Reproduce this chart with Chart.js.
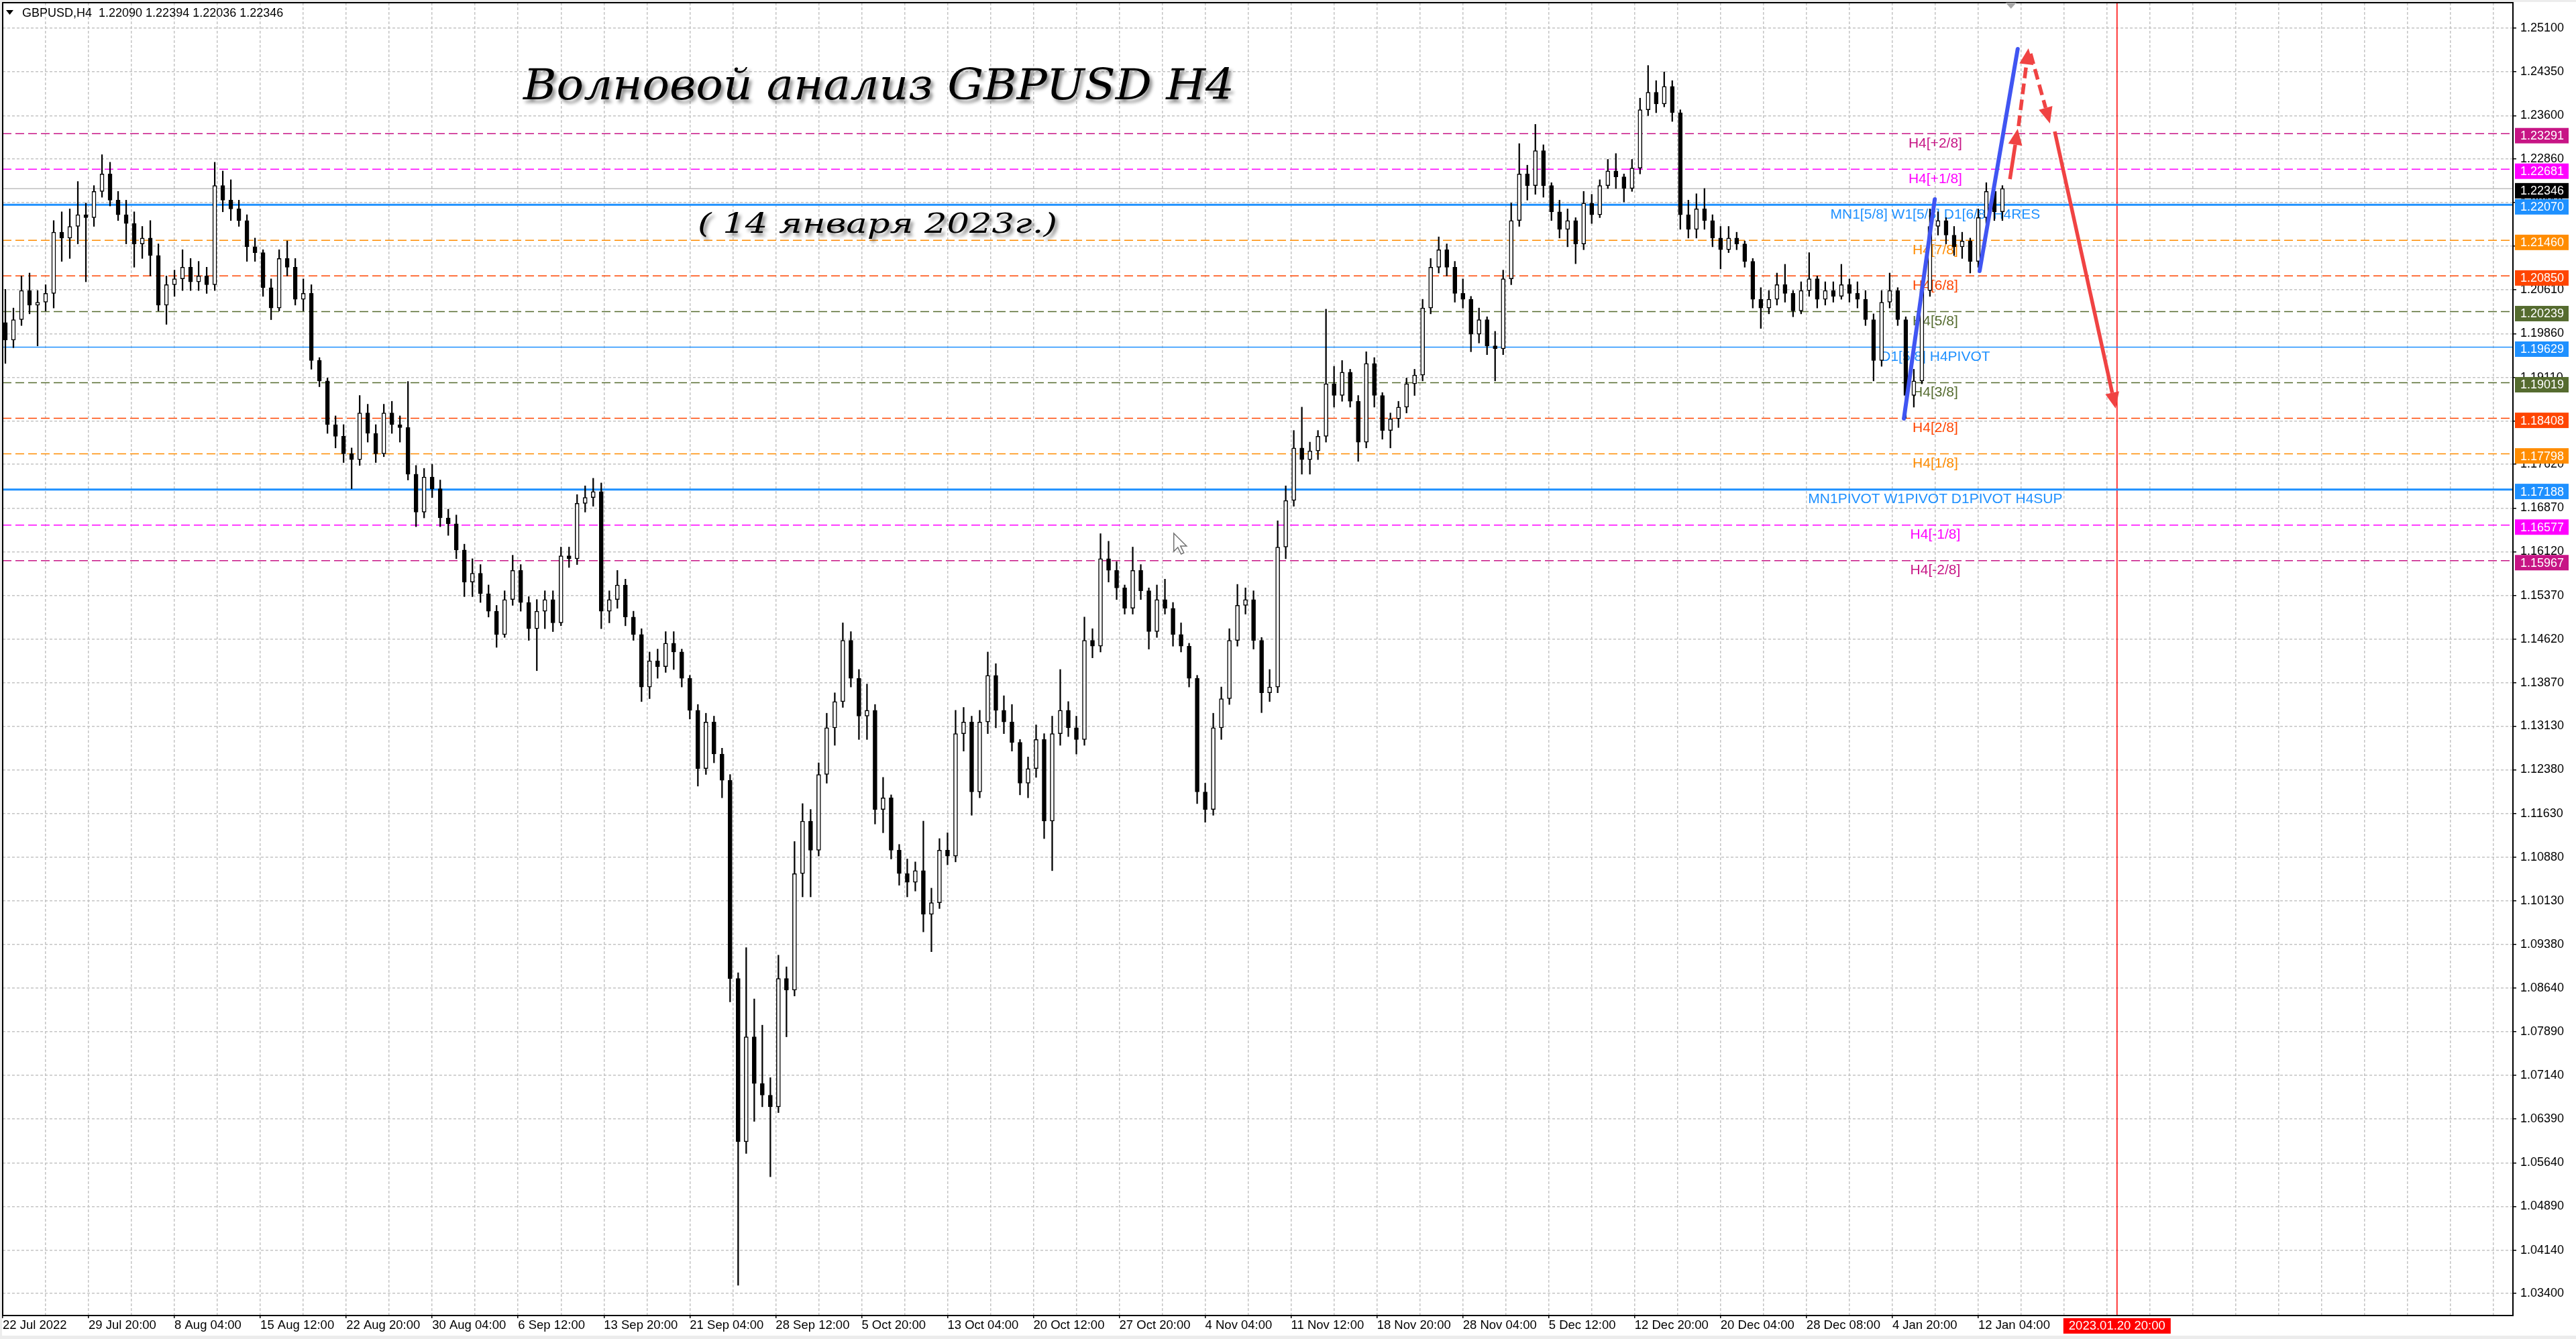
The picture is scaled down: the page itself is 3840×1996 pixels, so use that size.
<!DOCTYPE html>
<html>
<head>
<meta charset="utf-8">
<title>GBPUSD H4</title>
<script src="https://cdn.jsdelivr.net/npm/chart.js@4.4.1/dist/chart.umd.min.js"></script>
<style>
html,body{margin:0;padding:0;background:#fff;overflow:hidden;}
#wrap{width:3840px;height:1996px;position:relative;}
canvas{display:block;}
</style>
</head>
<body>
<div id="wrap"><canvas id="c"></canvas></div>
<script>
// ---------- DATA (each candle = 3 H4 bars) ----------
const candleOpen = [
1.2005,1.1975,1.2010,1.2060,1.2035,1.2040,1.2055,1.2160,1.2150,1.2170,
1.2190,1.2185,1.2230,1.2260,1.2215,1.2190,1.2175,1.2140,1.2150,1.2120,
1.2035,1.2070,1.2080,1.2100,1.2075,1.2085,1.2070,1.2240,1.2215,1.2200,
1.2180,1.2135,1.2125,1.2065,1.2030,1.2115,1.2100,1.2045,1.2055,1.1940,
1.1905,1.1830,1.1810,1.1780,1.1770,1.1850,1.1815,1.1780,1.1850,1.1830,
1.1825,1.1745,1.1680,1.1740,1.1720,1.1670,1.1660,1.1615,1.1560,1.1575,
1.1540,1.1510,1.1470,1.1530,1.1580,1.1525,1.1480,1.1510,1.1530,1.1490,
1.1605,1.1600,1.1695,1.1705,1.1715,1.1510,1.1530,1.1555,1.1500,1.1470,
1.1380,1.1425,1.1415,1.1455,1.1440,1.1395,1.1340,1.1240,1.1320,1.1265,
1.1220,1.0880,1.0600,1.0780,1.0700,1.0680,1.0660,1.0880,1.0860,1.1060,
1.1150,1.1100,1.1230,1.1310,1.1355,1.1460,1.1395,1.1330,1.1340,1.1170,
1.1190,1.1100,1.1060,1.1045,1.1065,1.0990,1.1010,1.1100,1.1090,1.1300,
1.1320,1.1200,1.1320,1.1400,1.1340,1.1320,1.1285,1.1215,1.1240,1.1290,
1.1150,1.1300,1.1340,1.1310,1.1290,1.1460,1.1450,1.1600,1.1580,1.1550,
1.1515,1.1580,1.1545,1.1475,1.1530,1.1515,1.1470,1.1450,1.1395,1.1200,
1.1170,1.1310,1.1360,1.1460,1.1520,1.1530,1.1460,1.1370,1.1380,1.1620,
1.1700,1.1790,1.1770,1.1785,1.1810,1.1900,1.1880,1.1920,1.1870,1.1800,
1.1935,1.1880,1.1820,1.1840,1.1860,1.1900,1.1915,1.2030,1.2100,1.2130,
1.2100,1.2055,1.2045,1.1985,1.2010,1.1965,1.1960,1.2080,1.2180,1.2260,
1.2240,1.2300,1.2240,1.2195,1.2165,1.2180,1.2140,1.2210,1.2190,1.2240,
1.2265,1.2255,1.2235,1.2270,1.2370,1.2400,1.2380,1.2410,1.2365,1.2190,
1.2165,1.2200,1.2180,1.2150,1.2130,1.2150,1.2140,1.2110,1.2045,1.2030,
1.2045,1.2070,1.2055,1.2025,1.2060,1.2080,1.2045,1.2060,1.2050,1.2070,
1.2055,1.2045,1.2010,1.1940,1.2040,1.2060,1.2010,1.1880,1.1905,1.2060,
1.2170,1.2180,1.2155,1.2135,1.2145,1.2110,1.2185,1.2230,1.2195
];
const candleHigh = [
1.2062,1.2030,1.2085,1.2090,1.2060,1.2070,1.2180,1.2195,1.2200,1.2247,
1.2210,1.2240,1.2293,1.2280,1.2230,1.2215,1.2195,1.2170,1.2180,1.2140,
1.2085,1.2095,1.2130,1.2115,1.2110,1.2100,1.2280,1.2265,1.2250,1.2215,
1.2190,1.2150,1.2130,1.2080,1.2130,1.2145,1.2115,1.2080,1.2070,1.1945,
1.1910,1.1845,1.1830,1.1790,1.1880,1.1865,1.1830,1.1865,1.1870,1.1845,
1.1904,1.1760,1.1755,1.1762,1.1735,1.1685,1.1675,1.1625,1.1600,1.1590,
1.1555,1.1520,1.1545,1.1606,1.1590,1.1535,1.1530,1.1545,1.1545,1.1620,
1.1620,1.1710,1.1725,1.1738,1.1730,1.1545,1.1580,1.1565,1.1510,1.1480,
1.1440,1.1445,1.1475,1.1475,1.1445,1.1400,1.1350,1.1335,1.1330,1.1275,
1.1230,1.0890,1.0933,1.0845,1.0800,1.0710,1.0920,1.0900,1.1115,1.1180,
1.1170,1.1250,1.1335,1.1370,1.1490,1.1475,1.1410,1.1385,1.1350,1.1225,
1.1195,1.1110,1.1085,1.1080,1.1150,1.1035,1.1120,1.1130,1.1340,1.1345,
1.1330,1.1340,1.1440,1.1420,1.1365,1.1350,1.1290,1.1260,1.1315,1.1300,
1.1330,1.1410,1.1355,1.1330,1.1500,1.1480,1.1643,1.1630,1.1595,1.1555,
1.1620,1.1590,1.1550,1.1555,1.1565,1.1525,1.1490,1.1455,1.1400,1.1215,
1.1335,1.1380,1.1480,1.1556,1.1550,1.1545,1.1465,1.1410,1.1665,1.1725,
1.1820,1.1860,1.1800,1.1820,1.2028,1.1930,1.1940,1.1925,1.1880,1.1955,
1.1945,1.1885,1.1850,1.1870,1.1910,1.1925,1.2045,1.2115,1.2152,1.2140,
1.2110,1.2080,1.2050,1.2030,1.2015,1.1990,1.2095,1.2210,1.2312,1.2275,
1.2345,1.2310,1.2245,1.2215,1.2200,1.2185,1.2230,1.2225,1.2250,1.2285,
1.2295,1.2260,1.2285,1.2390,1.2446,1.2420,1.2435,1.2420,1.2370,1.2215,
1.2226,1.2235,1.2190,1.2170,1.2170,1.2160,1.2145,1.2115,1.2065,1.2060,
1.2090,1.2105,1.2060,1.2075,1.2125,1.2085,1.2075,1.2075,1.2105,1.2080,
1.2075,1.2060,1.2020,1.2060,1.2090,1.2065,1.2015,1.1925,1.2075,1.2200,
1.2195,1.2185,1.2170,1.2160,1.2150,1.2200,1.2245,1.2240,1.2240
];
const candleLow = [
1.1935,1.1962,1.2000,1.2020,1.1965,1.2025,1.2030,1.2110,1.2115,1.2140,
1.2075,1.2170,1.2220,1.2205,1.2180,1.2140,1.2100,1.2115,1.2085,1.2025,
1.2002,1.2050,1.2060,1.2060,1.2060,1.2055,1.2060,1.2195,1.2180,1.2170,
1.2110,1.2110,1.2050,1.2010,1.2025,1.2085,1.2035,1.2025,1.1925,1.1895,
1.1815,1.1790,1.1765,1.1720,1.1760,1.1800,1.1765,1.1775,1.1815,1.1800,
1.1735,1.1655,1.1670,1.1705,1.1655,1.1640,1.1600,1.1535,1.1535,1.1525,
1.1500,1.1448,1.1465,1.1520,1.1510,1.1460,1.1408,1.1480,1.1475,1.1485,
1.1585,1.1590,1.1680,1.1690,1.1480,1.1490,1.1515,1.1485,1.1460,1.1355,
1.1360,1.1395,1.1405,1.1410,1.1380,1.1325,1.1210,1.1230,1.1250,1.1190,
1.0840,1.0354,1.0580,1.0635,1.0660,1.0540,1.0650,1.0780,1.0850,1.1020,
1.1020,1.1090,1.1215,1.1280,1.1345,1.1380,1.1290,1.1290,1.1145,1.1130,
1.1085,1.1040,1.1020,1.1030,1.0960,1.0926,1.1000,1.1075,1.1080,1.1270,
1.1160,1.1190,1.1300,1.1310,1.1300,1.1270,1.1195,1.1190,1.1225,1.1120,
1.1065,1.1280,1.1295,1.1265,1.1280,1.1430,1.1440,1.1560,1.1530,1.1505,
1.1505,1.1530,1.1445,1.1465,1.1505,1.1450,1.1440,1.1380,1.1180,1.1148,
1.1160,1.1290,1.1350,1.1450,1.1505,1.1445,1.1336,1.1355,1.1370,1.1600,
1.1690,1.1745,1.1745,1.1770,1.1800,1.1860,1.1870,1.1860,1.1767,1.1790,
1.1860,1.1805,1.1790,1.1825,1.1850,1.1880,1.1905,1.2020,1.2090,1.2085,
1.2040,1.2030,1.1955,1.1970,1.1950,1.1905,1.1950,1.2070,1.2170,1.2215,
1.2225,1.2220,1.2180,1.2150,1.2135,1.2106,1.2130,1.2175,1.2185,1.2235,
1.2235,1.2212,1.2230,1.2260,1.2360,1.2365,1.2375,1.2350,1.2165,1.2150,
1.2150,1.2165,1.2135,1.2097,1.2125,1.2130,1.2100,1.2030,1.1995,1.2020,
1.2035,1.2040,1.2015,1.2020,1.2050,1.2030,1.2035,1.2040,1.2045,1.2040,
1.2030,1.2000,1.1905,1.1930,1.2030,1.2000,1.1841,1.1860,1.1900,1.2050,
1.2155,1.2140,1.2120,1.2115,1.2090,1.2100,1.2175,1.2180,1.2180
];
const candleClose = [
1.1975,1.2010,1.2060,1.2035,1.2040,1.2055,1.2160,1.2150,1.2170,1.2190,
1.2185,1.2230,1.2260,1.2215,1.2190,1.2175,1.2140,1.2150,1.2120,1.2035,
1.2070,1.2080,1.2100,1.2075,1.2085,1.2070,1.2240,1.2215,1.2200,1.2180,
1.2135,1.2125,1.2065,1.2030,1.2115,1.2100,1.2045,1.2055,1.1940,1.1905,
1.1830,1.1810,1.1780,1.1770,1.1850,1.1815,1.1780,1.1850,1.1830,1.1825,
1.1745,1.1680,1.1740,1.1720,1.1670,1.1660,1.1615,1.1560,1.1575,1.1540,
1.1510,1.1470,1.1530,1.1580,1.1525,1.1480,1.1510,1.1530,1.1490,1.1605,
1.1600,1.1695,1.1705,1.1715,1.1510,1.1530,1.1555,1.1500,1.1470,1.1380,
1.1425,1.1415,1.1455,1.1440,1.1395,1.1340,1.1240,1.1320,1.1265,1.1220,
1.0880,1.0600,1.0780,1.0700,1.0680,1.0660,1.0880,1.0860,1.1060,1.1150,
1.1100,1.1230,1.1310,1.1355,1.1460,1.1395,1.1330,1.1340,1.1170,1.1190,
1.1100,1.1060,1.1045,1.1065,1.0990,1.1010,1.1100,1.1090,1.1300,1.1320,
1.1200,1.1320,1.1400,1.1340,1.1320,1.1285,1.1215,1.1240,1.1290,1.1150,
1.1300,1.1340,1.1310,1.1290,1.1460,1.1450,1.1600,1.1580,1.1550,1.1515,
1.1580,1.1545,1.1475,1.1530,1.1515,1.1470,1.1450,1.1395,1.1200,1.1170,
1.1310,1.1360,1.1460,1.1520,1.1530,1.1460,1.1370,1.1380,1.1620,1.1700,
1.1790,1.1770,1.1785,1.1810,1.1900,1.1880,1.1920,1.1870,1.1800,1.1935,
1.1880,1.1820,1.1840,1.1860,1.1900,1.1915,1.2030,1.2100,1.2130,1.2100,
1.2055,1.2045,1.1985,1.2010,1.1965,1.1960,1.2080,1.2180,1.2260,1.2240,
1.2300,1.2240,1.2195,1.2165,1.2180,1.2140,1.2210,1.2190,1.2240,1.2265,
1.2255,1.2235,1.2270,1.2370,1.2400,1.2380,1.2410,1.2365,1.2190,1.2165,
1.2200,1.2180,1.2150,1.2130,1.2150,1.2140,1.2110,1.2045,1.2030,1.2045,
1.2070,1.2055,1.2025,1.2060,1.2080,1.2045,1.2060,1.2050,1.2070,1.2055,
1.2045,1.2010,1.1940,1.2040,1.2060,1.2010,1.1880,1.1905,1.2060,1.2170,
1.2180,1.2155,1.2135,1.2145,1.2110,1.2185,1.2230,1.2195,1.2235
];
const barsPerCandle = 3;          // H4 bars summarised by one candle
const barsPerTimeLabel = 32;      // H4 bars between two time labels
const barsPerGridLine = 16;
const xTimeLabels = [
"22 Jul 2022","29 Jul 20:00","8 Aug 04:00","15 Aug 12:00","22 Aug 20:00","30 Aug 04:00",
"6 Sep 12:00","13 Sep 20:00","21 Sep 04:00","28 Sep 12:00","5 Oct 20:00","13 Oct 04:00",
"20 Oct 12:00","27 Oct 20:00","4 Nov 04:00","11 Nov 12:00","18 Nov 20:00","28 Nov 04:00",
"5 Dec 12:00","12 Dec 20:00","20 Dec 04:00","28 Dec 08:00","4 Jan 20:00","12 Jan 04:00"
];
const xAxisBars = 935.2;
const yTickValues = [
1.25100,1.24350,1.23600,1.22860,1.22110,1.21360,1.20610,1.19860,1.19110,1.18360,
1.17620,1.16870,1.16120,1.15370,1.14620,1.13870,1.13130,1.12380,1.11630,1.10880,
1.10130,1.09380,1.08640,1.07890,1.07140,1.06390,1.05640,1.04890,1.04140,1.03400
];
const yTicksWithoutLabel = [1.21360, 1.18360];
const yAxisMin = 1.03020, yAxisMax = 1.25537;

const levelPrices = [1.23291,1.22681,1.22070,1.21460,1.20850,1.20239,1.19629,1.19019,1.18408,1.17798,1.17188,1.16577,1.15967];
const levelNames = ["H4[+2/8]","H4[+1/8]","MN1[5/8] W1[5/8] D1[6/8] H4RES","H4[7/8]","H4[6/8]","H4[5/8]",
  "D1[5/8] H4PIVOT","H4[3/8]","H4[2/8]","H4[1/8]","MN1PIVOT W1PIVOT D1PIVOT H4SUP","H4[-1/8]","H4[-2/8]"];
const levelNameAtBar = 720;
const currentPrice = 1.22346;
const futureLineAtBar = 787.7;
const futureLineLabel = "2023.01.20 20:00";
const shiftMarkerAtBar = 748.2;
const cursorAt = {x: 436.3, y: 1.16436};

const waveLineA = [{x:708.3, y:1.18403},{x:719.8, y:1.22166}];
const waveLineB = [{x:736.5, y:1.20935},{x:750.7, y:1.24743}];
const arrowUpSolid    = [{x:747.8, y:1.22511},{x:750.7, y:1.23374}];
const arrowUpDashed   = [{x:751.0, y:1.23420},{x:754.7, y:1.24755}];
const arrowDownDashed = [{x:755.5, y:1.24663},{x:762.7, y:1.23466}];
const arrowDownSolid  = [{x:764.5, y:1.23328},{x:787.2, y:1.18576}];

const headerText = "GBPUSD,H4  1.22090 1.22394 1.22036 1.22346";
const titleText = "Волновой анализ GBPUSD H4";
const subtitleText = "( 14 января 2023г.)";

// ---------- STYLES ----------
const levelColors = ["#C71585","#FF00FF","#1E90FF","#FF8C00","#FF4500","#556B2F","#1E90FF","#556B2F","#FF4500","#FF8C00","#1E90FF","#FF00FF","#C71585"];
const levelStyles = ["dash","dash","bold","dash","dash","dash","thin","dash","dash","dash","bold","dash","dash"];
const WAVE_BLUE = "#4055F2";
const ARROW_RED = "#F04343";
const GRID = "#c4c4c4";
const AXIS_FONT = "'Liberation Sans', Arial, sans-serif";

// ---------- BUILD ----------
const candleBar = candleOpen.map((_, i) => i * barsPerCandle + (barsPerCandle - 1) / 2);
const wickData = candleBar.map((x, i) => ({x, y: [candleLow[i], candleHigh[i]]}));
const bodyData = candleBar.map((x, i) => ({x, y: [Math.min(candleOpen[i], candleClose[i]), Math.max(candleOpen[i], candleClose[i])]}));
const bodyFill = candleOpen.map((o, i) => candleClose[i] >= o ? "#ffffff" : "#000000");
const xGridBars = [];
for (let b = 0; b <= xAxisBars; b += barsPerGridLine) xGridBars.push(b);

function timeLabelFor(v) {
  if (v % barsPerTimeLabel !== 0) return "";
  const k = v / barsPerTimeLabel;
  return k < xTimeLabels.length ? xTimeLabels[k] : "";
}

function arrowHead(ctx, x1, y1, x2, y2, len, hw) {
  const dx = x2 - x1, dy = y2 - y1, d = Math.hypot(dx, dy);
  const ux = dx / d, uy = dy / d;
  const bx = x2 - ux * len, by = y2 - uy * len;
  ctx.beginPath();
  ctx.moveTo(x2, y2);
  ctx.lineTo(bx - uy * hw, by + ux * hw);
  ctx.lineTo(bx + uy * hw, by - ux * hw);
  ctx.closePath();
  ctx.fill();
  return [bx, by];
}

function fittedText(ctx, text, cx, baseline, fontSize, targetWidth, family) {
  ctx.save();
  ctx.font = "italic " + fontSize + "px " + family;
  const w = ctx.measureText(text).width;
  const sx = targetWidth / w;
  ctx.shadowColor = "rgba(0,0,0,0.45)";
  ctx.shadowOffsetX = 4;
  ctx.shadowOffsetY = 5;
  ctx.shadowBlur = 5;
  ctx.translate(cx, baseline);
  ctx.scale(sx, 1);
  ctx.textAlign = "center";
  ctx.textBaseline = "alphabetic";
  ctx.fillStyle = "#000";
  ctx.fillText(text, 0, 0);
  ctx.restore();
}

function noScalePadding(s) {
  s.paddingTop = 0; s.paddingBottom = 0; s.paddingLeft = 0; s.paddingRight = 0;
}

const overlay = {
  id: "overlay",
  beforeDraw(chart) {
    const {ctx, width, height} = chart;
    ctx.save();
    ctx.fillStyle = "#ffffff";
    ctx.fillRect(0, 0, width, height);
    ctx.fillStyle = "#ececec";
    ctx.fillRect(0, 0, width, 3);
    ctx.fillRect(0, 0, 3, height);
    ctx.fillRect(0, height - 5, width, 5);
    ctx.restore();
  },
  beforeDatasetsDraw(chart) {
    const {ctx, chartArea: a, scales: {x, y}} = chart;
    ctx.save();
    ctx.beginPath();
    ctx.rect(a.left, a.top, a.right - a.left, a.bottom - a.top);
    ctx.clip();
    const py = y.getPixelForValue(currentPrice);
    ctx.strokeStyle = "#c0c0c0";
    ctx.lineWidth = 1.5;
    ctx.setLineDash([]);
    ctx.beginPath(); ctx.moveTo(a.left, py); ctx.lineTo(a.right, py); ctx.stroke();
    const fx = x.getPixelForValue(futureLineAtBar);
    ctx.strokeStyle = "#ff0000";
    ctx.lineWidth = 1.5;
    ctx.beginPath(); ctx.moveTo(fx, a.top); ctx.lineTo(fx, a.bottom); ctx.stroke();
    const lx = x.getPixelForValue(levelNameAtBar);
    levelPrices.forEach((p, i) => {
      const ly = y.getPixelForValue(p);
      const st = levelStyles[i];
      ctx.strokeStyle = levelColors[i];
      ctx.lineWidth = st === "bold" ? 3 : 1.5;
      ctx.setLineDash(st === "dash" ? [13, 6] : []);
      ctx.beginPath(); ctx.moveTo(a.left, ly); ctx.lineTo(a.right, ly); ctx.stroke();
    });
    ctx.setLineDash([]);
    ctx.font = "21px " + AXIS_FONT;
    ctx.textAlign = "center";
    ctx.textBaseline = "top";
    levelPrices.forEach((p, i) => {
      const ly = y.getPixelForValue(p);
      ctx.fillStyle = levelColors[i];
      ctx.fillText(levelNames[i], lx, ly + 4);
    });
    ctx.restore();
  },
  afterDatasetsDraw(chart) {
    const {ctx, chartArea: a, scales: {x, y}} = chart;
    ctx.save();
    ctx.beginPath();
    ctx.rect(a.left, a.top, a.right - a.left, a.bottom - a.top);
    ctx.clip();
    ctx.strokeStyle = ARROW_RED;
    ctx.fillStyle = ARROW_RED;
    ctx.lineWidth = 5.5;
    ctx.lineCap = "butt";
    [[arrowUpSolid, false], [arrowUpDashed, true], [arrowDownDashed, true], [arrowDownSolid, false]].forEach(([pts, dashed]) => {
      const x1 = x.getPixelForValue(pts[0].x), y1 = y.getPixelForValue(pts[0].y);
      const x2 = x.getPixelForValue(pts[1].x), y2 = y.getPixelForValue(pts[1].y);
      const [bx, by] = arrowHead(ctx, x1, y1, x2, y2, 24, 10.5);
      ctx.setLineDash(dashed ? [16, 8] : []);
      ctx.beginPath(); ctx.moveTo(x1, y1); ctx.lineTo(bx, by); ctx.stroke();
    });
    ctx.restore();
  },
  afterDraw(chart) {
    const {ctx, chartArea: a, scales: {x, y}} = chart;
    ctx.save();
    ctx.strokeStyle = "#000";
    ctx.lineWidth = 2;
    ctx.setLineDash([]);
    ctx.strokeRect(a.left, a.top, a.right - a.left, a.bottom - a.top);
    ctx.font = "18px " + AXIS_FONT;
    ctx.textAlign = "left";
    ctx.textBaseline = "middle";
    const boxes = levelPrices.map((p, i) => [p, levelColors[i]]).concat([[currentPrice, "#000000"]]);
    boxes.forEach(([p, c]) => {
      const by = y.getPixelForValue(p) + 3;
      ctx.fillStyle = c;
      ctx.fillRect(a.right + 3, by - 11.5, 80, 23);
      ctx.fillStyle = "#ffffff";
      ctx.fillText(p.toFixed(5), a.right + 11, by + 1);
    });
    const fx = x.getPixelForValue(futureLineAtBar);
    ctx.fillStyle = "#ff0000";
    ctx.fillRect(fx - 80, a.bottom + 4, 160, 23);
    ctx.fillStyle = "#ffffff";
    ctx.font = "18.5px " + AXIS_FONT;
    ctx.textAlign = "center";
    ctx.fillText(futureLineLabel, fx, a.bottom + 16);
    const sx = x.getPixelForValue(shiftMarkerAtBar);
    ctx.fillStyle = "#a8a8a8";
    ctx.beginPath(); ctx.moveTo(sx - 8, a.top); ctx.lineTo(sx + 8, a.top); ctx.lineTo(sx, a.top + 9); ctx.closePath(); ctx.fill();
    ctx.fillStyle = "#000";
    ctx.beginPath(); ctx.moveTo(9, 15); ctx.lineTo(20, 15); ctx.lineTo(14.5, 22); ctx.closePath(); ctx.fill();
    ctx.font = "18px " + AXIS_FONT;
    ctx.textAlign = "left";
    ctx.textBaseline = "middle";
    ctx.fillText(headerText, 33, 20);
    const cx = x.getPixelForValue(cursorAt.x), cy = y.getPixelForValue(cursorAt.y);
    ctx.beginPath();
    const cur = [[0,0],[0,27],[6,21],[11,31],[15,29],[10,19],[19,19]];
    cur.forEach(([dx, dy], k) => k ? ctx.lineTo(cx + dx, cy + dy) : ctx.moveTo(cx + dx, cy + dy));
    ctx.closePath();
    ctx.fillStyle = "#ffffff"; ctx.fill();
    ctx.strokeStyle = "#707070"; ctx.lineWidth = 1.5; ctx.stroke();
    ctx.restore();
    fittedText(ctx, titleText, 1310, 148, 64, 1060, "'DejaVu Serif', 'Liberation Serif', serif");
    fittedText(ctx, subtitleText, 1308, 347, 41, 536, "'DejaVu Serif', 'Liberation Serif', serif");
  }
};

new Chart(document.getElementById("c"), {
  type: "bar",
  data: {
    datasets: [
      {type: "line", data: waveLineA, borderColor: WAVE_BLUE, borderWidth: 6, pointRadius: 0, borderCapStyle: "round", tension: 0, order: 0},
      {type: "line", data: waveLineB, borderColor: WAVE_BLUE, borderWidth: 6, pointRadius: 0, borderCapStyle: "round", tension: 0, order: 0},
      {type: "bar", data: bodyData, backgroundColor: bodyFill, borderColor: "#000000", borderWidth: 1.5, borderSkipped: false,
       barThickness: 6, grouped: false, minBarLength: 2, order: 1},
      {type: "bar", data: wickData, backgroundColor: "#000000", borderWidth: 0, barThickness: 1.6, grouped: false, order: 2}
    ]
  },
  options: {
    responsive: true,
    maintainAspectRatio: false,
    devicePixelRatio: 1,
    animation: false,
    events: [],
    layout: {padding: {left: 4, top: 4, right: 0, bottom: 0}, autoPadding: false},
    plugins: {legend: {display: false}, tooltip: {enabled: false}, title: {display: false}},
    scales: {
      x: {
        type: "linear", min: 0, max: xAxisBars, offset: false,
        afterBuildTicks: s => { s.ticks = xGridBars.map(v => ({value: v})); },
        afterFit: s => { s.height = 35; noScalePadding(s); },
        ticks: {autoSkip: false, maxRotation: 0, minRotation: 0, align: "start", padding: 0,
                color: "#000", font: {family: AXIS_FONT, size: 18.5},
                callback: v => timeLabelFor(v)},
        grid: {color: GRID, lineWidth: 1.5, offset: false, tickLength: 4, tickWidth: 1.5, tickBorderDash: [],
               tickColor: c => (c.tick && timeLabelFor(c.tick.value) !== "") ? "#000" : "rgba(0,0,0,0)"},
        border: {display: true, color: "#000", width: 2, dash: [4, 3]}
      },
      y: {
        type: "linear", position: "right", min: yAxisMin, max: yAxisMax,
        afterBuildTicks: s => { s.ticks = yTickValues.map(v => ({value: v})); },
        afterFit: s => { s.width = 94; noScalePadding(s); },
        ticks: {autoSkip: false, padding: 6, color: "#000", font: {family: AXIS_FONT, size: 18},
                callback: v => yTicksWithoutLabel.includes(v) ? "" : v.toFixed(5)},
        grid: {color: GRID, lineWidth: 1.5, tickLength: 5, tickWidth: 1.5, tickColor: "#000", tickBorderDash: []},
        border: {display: true, color: "#000", width: 2, dash: [4, 3]}
      }
    }
  },
  plugins: [overlay]
});
</script>
</body>
</html>
